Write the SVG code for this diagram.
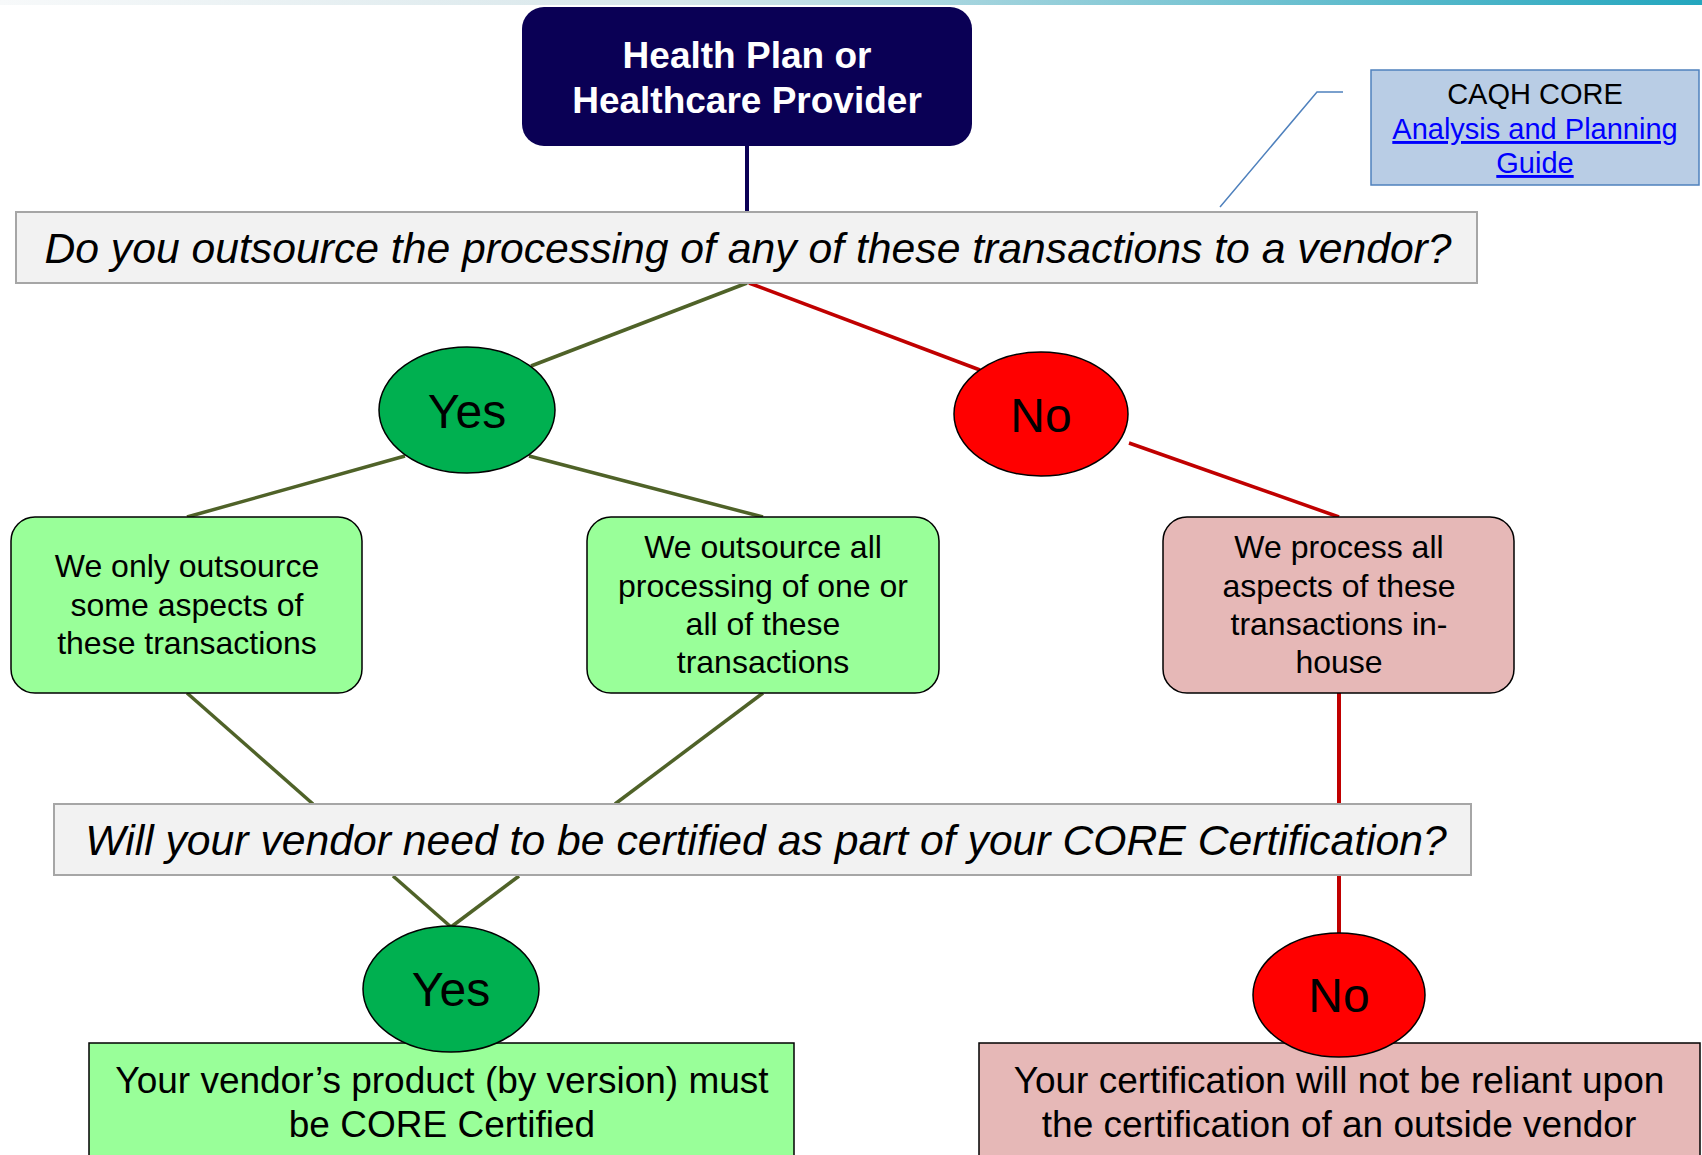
<svg xmlns="http://www.w3.org/2000/svg" width="1702" height="1155" viewBox="0 0 1702 1155">
<defs>
<linearGradient id="bar" x1="0" y1="0" x2="1" y2="0">
<stop offset="0" stop-color="#f7f9fa"/>
<stop offset="0.4" stop-color="#d6e6ea"/>
<stop offset="1" stop-color="#23a6be"/>
</linearGradient>
<style>
.t{font-family:"Liberation Sans",Arial,sans-serif;text-anchor:middle;fill:#000}
.q{fill:#f2f2f2;stroke:#a6a6a6;stroke-width:2}
.gbox{fill:#99ff99;stroke:#000;stroke-width:1.5}
.pbox{fill:#e6b8b7;stroke:#000;stroke-width:1.5}
.yes{fill:#00b050;stroke:#000;stroke-width:1.5}
.no{fill:#ff0000;stroke:#000;stroke-width:1.5}
.gl{stroke:#4f6228;stroke-width:3.5;fill:none}
.rl{stroke:#c00000;stroke-width:3.5;fill:none}
.rv{stroke:#c00000;stroke-width:4;fill:none}
.qt{font-size:42.7px;font-style:italic}
.bt{font-size:32px}
.ft{font-size:37px}
.yn{font-size:48px}
</style>
</defs>
<rect x="0" y="0" width="1702" height="5" fill="url(#bar)"/>

<g id="connectors">
<line x1="747" y1="146" x2="747" y2="211" stroke="#0a0055" stroke-width="4"/>
<line class="gl" x1="747" y1="283" x2="531" y2="366"/>
<line class="rl" x1="749" y1="283" x2="980" y2="370"/>
<line class="gl" x1="405" y1="456" x2="187" y2="517"/>
<line class="gl" x1="529" y1="456" x2="763" y2="517"/>
<line class="rl" x1="1129" y1="443" x2="1339" y2="517"/>
<line class="gl" x1="187" y1="693" x2="313" y2="804"/>
<line class="gl" x1="763" y1="693" x2="615" y2="804"/>
<line class="rv" x1="1339" y1="693" x2="1339" y2="804"/>
<line class="gl" x1="393" y1="876" x2="451" y2="927"/>
<line class="gl" x1="519" y1="876" x2="451" y2="927"/>
<line class="rv" x1="1339" y1="876" x2="1339" y2="933"/>
<polyline points="1343,92 1317,92 1220,207" fill="none" stroke="#4f81bd" stroke-width="1.5"/>
</g>

<g id="start">
<rect x="522" y="7" width="450" height="139" rx="22" fill="#0a0055"/>
<text class="t" x="747" y="68" font-size="37" font-weight="bold" style="fill:#fff">Health Plan or</text>
<text class="t" x="747" y="113" font-size="37" font-weight="bold" style="fill:#fff">Healthcare Provider</text>
</g>

<g id="guide">
<rect x="1371" y="70" width="328" height="115" fill="#b9cde5" stroke="#4f81bd" stroke-width="1.5"/>
<text class="t" x="1535" y="104" font-size="29">CAQH CORE</text>
<text class="t" x="1535" y="139" font-size="29" text-decoration="underline" style="fill:#0000ff">Analysis and Planning</text>
<text class="t" x="1535" y="173" font-size="29" text-decoration="underline" style="fill:#0000ff">Guide</text>
</g>

<g id="q1">
<rect class="q" x="16" y="212" width="1461" height="71"/>
<text class="t qt" x="748" y="263">Do you outsource the processing of any of these transactions to a vendor?</text>
</g>

<g id="yes1">
<ellipse class="yes" cx="467" cy="410" rx="88" ry="63"/>
<text class="t yn" x="467" y="428">Yes</text>
</g>

<g id="no1">
<ellipse class="no" cx="1041" cy="414" rx="87" ry="62"/>
<text class="t yn" x="1041" y="432">No</text>
</g>

<g id="some">
<rect class="gbox" x="11" y="517" width="351" height="176" rx="24"/>
<text class="t bt" x="187" y="577">We only outsource</text>
<text class="t bt" x="187" y="616">some aspects of</text>
<text class="t bt" x="187" y="654">these transactions</text>
</g>

<g id="all">
<rect class="gbox" x="587" y="517" width="352" height="176" rx="24"/>
<text class="t bt" x="763" y="558">We outsource all</text>
<text class="t bt" x="763" y="597">processing of one or</text>
<text class="t bt" x="763" y="635">all of these</text>
<text class="t bt" x="763" y="673">transactions</text>
</g>

<g id="inhouse">
<rect class="pbox" x="1163" y="517" width="351" height="176" rx="24"/>
<text class="t bt" x="1339" y="558">We process all</text>
<text class="t bt" x="1339" y="597">aspects of these</text>
<text class="t bt" x="1339" y="635">transactions in-</text>
<text class="t bt" x="1339" y="673">house</text>
</g>

<g id="q2">
<rect class="q" x="54" y="804" width="1417" height="71"/>
<text class="t qt" x="766" y="855">Will your vendor need to be certified as part of your CORE Certification?</text>
</g>

<g id="result-yes">
<rect class="gbox" x="89" y="1043" width="705" height="130"/>
<text class="t ft" x="442" y="1093">Your vendor’s product (by version) must</text>
<text class="t ft" x="442" y="1137">be CORE Certified</text>
</g>

<g id="result-no">
<rect class="pbox" x="979" y="1043" width="721" height="130"/>
<text class="t ft" x="1339" y="1093">Your certification will not be reliant upon</text>
<text class="t ft" x="1339" y="1137">the certification of an outside vendor</text>
</g>

<g id="yes2">
<ellipse class="yes" cx="451" cy="989" rx="88" ry="63"/>
<text class="t yn" x="451" y="1006">Yes</text>
</g>

<g id="no2">
<ellipse class="no" cx="1339" cy="995" rx="86" ry="62"/>
<text class="t yn" x="1339" y="1012">No</text>
</g>
</svg>
